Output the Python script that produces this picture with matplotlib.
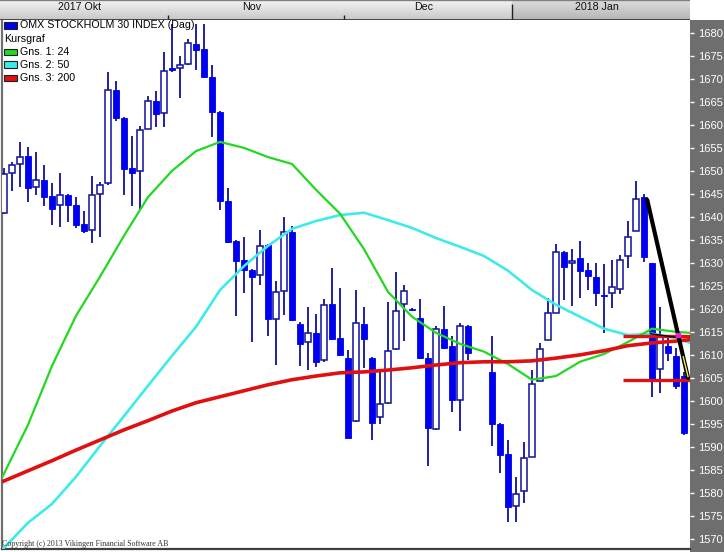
import numpy as np
import matplotlib
matplotlib.use("Agg")
import matplotlib.pyplot as plt
from matplotlib.patches import Rectangle

W, H = 724, 552

### DATA: OMX STOCKHOLM 30, daily, Oct 2017 - Jan 2018 ###
# nan = holiday slots (25-26 Dec)
opens = [1640.9, 1649.5, 1651.4, 1653.3, 1646.5, 1648.0, 1644.6, 1642.5, 1644.7, 1642.5,
         1638.5, 1637.2, 1645.0, 1647.3, 1667.5, 1661.6, 1650.7, 1649.9, 1659.2, 1665.2,
         1662.5, 1672.3, 1672.3, 1673.2, 1677.5, 1676.5, 1670.4, 1662.9, 1643.5, 1634.7,
         1630.7, 1628.5, 1627.3, 1633.8, 1617.9, 1623.8, 1636.7, 1616.7, 1612.7, 1614.7,
         1608.8, 1621.1, 1613.7, 1609.3, 1595.7, 1616.7, 1609.3, 1596.5, 1599.6, 1611.2,
         1621.1, 1620.0, 1618.0, 1609.3, 1593.8, 1615.6, 1612.0, 1600.1, 1616.2, np.nan,
         np.nan, 1606.3, 1595.0, 1588.5, 1577.2, 1580.4, 1587.9, 1604.4, 1613.3, 1619.1,
         1632.4, 1629.9, 1631.1, 1628.5, 1626.9, 1623.0, 1623.4, 1624.3, 1631.4, 1637.0,
         1644.3, 1629.9, 1606.9, 1612.0, 1609.8, 1605.4]
highs = [1650.6, 1652.0, 1656.2, 1655.2, 1654.0, 1651.2, 1647.3, 1649.6, 1645.0, 1644.3,
         1641.2, 1648.9, 1647.5, 1671.5, 1669.6, 1661.8, 1657.6, 1659.7, 1666.3, 1667.4,
         1675.8, 1682.0, 1674.9, 1678.7, 1681.9, 1681.9, 1673.0, 1663.0, 1646.3, 1635.0,
         1635.6, 1628.7, 1637.2, 1634.0, 1626.1, 1640.0, 1638.0, 1617.2, 1620.4, 1618.9,
         1622.2, 1628.8, 1624.6, 1611.1, 1624.1, 1620.4, 1609.5, 1606.9, 1621.5, 1628.0,
         1625.2, 1620.3, 1622.2, 1610.5, 1616.2, 1620.7, 1614.0, 1616.9, 1616.5, np.nan,
         np.nan, 1614.0, 1595.2, 1591.5, 1583.5, 1591.1, 1606.7, 1612.5, 1622.4, 1634.1,
         1632.6, 1633.1, 1634.8, 1630.0, 1629.9, 1629.8, 1630.7, 1631.7, 1639.1, 1647.8,
         1645.0, 1630.0, 1620.4, 1613.8, 1611.4, 1606.2]
lows = [1640.6, 1645.7, 1646.5, 1643.3, 1644.8, 1642.4, 1638.3, 1637.9, 1638.8, 1637.5,
        1636.5, 1634.4, 1635.7, 1646.9, 1660.9, 1644.8, 1642.4, 1641.8, 1659.0, 1659.6,
        1659.6, 1671.5, 1665.8, 1673.0, 1671.9, 1670.2, 1657.3, 1641.4, 1634.4, 1618.5,
        1623.4, 1612.7, 1625.1, 1614.0, 1607.9, 1618.7, 1617.3, 1607.6, 1606.7, 1607.3,
        1608.4, 1613.3, 1609.8, 1591.9, 1595.4, 1607.2, 1591.4, 1595.0, 1599.4, 1611.0,
        1613.0, 1619.5, 1609.2, 1585.9, 1593.7, 1611.3, 1597.5, 1593.4, 1608.9, np.nan,
        np.nan, 1590.1, 1584.4, 1573.7, 1573.7, 1577.8, 1587.7, 1604.3, 1613.2, 1619.0,
        1622.0, 1620.7, 1622.4, 1624.0, 1620.7, 1614.7, 1620.1, 1623.2, 1628.8, 1636.9,
        1630.2, 1600.9, 1601.8, 1608.6, 1602.5, 1592.5]
closes = [1649.3, 1651.2, 1653.1, 1646.2, 1648.0, 1644.4, 1641.7, 1644.7, 1642.5, 1638.3,
          1636.9, 1644.7, 1647.0, 1667.5, 1661.6, 1650.5, 1649.6, 1658.8, 1665.2, 1662.3,
          1671.7, 1671.9, 1673.0, 1677.8, 1676.2, 1670.4, 1662.9, 1643.4, 1634.6, 1630.5,
          1628.4, 1627.0, 1633.7, 1617.7, 1623.7, 1636.7, 1617.5, 1612.4, 1614.7, 1608.5,
          1620.8, 1613.5, 1609.9, 1592.0, 1616.9, 1613.4, 1595.3, 1599.3, 1610.8, 1619.5,
          1623.8, 1619.8, 1609.3, 1594.1, 1615.6, 1611.4, 1600.1, 1616.2, 1610.4, np.nan,
          np.nan, 1595.0, 1588.3, 1576.9, 1579.8, 1587.6, 1603.7, 1611.2, 1619.1, 1632.4,
          1629.2, 1630.4, 1628.3, 1627.2, 1623.4, 1622.7, 1624.7, 1630.7, 1635.6, 1643.8,
          1631.2, 1604.4, 1614.1, 1610.4, 1603.3, 1593.1]

# moving averages at these candle slots
ma_pos = [-0.25, 3, 6, 9, 12, 15, 18, 21, 24, 27, 30, 33, 36, 39, 42, 45, 48, 51, 54, 57,
          60, 63, 66, 69, 72, 75, 78, 81, 84, 85.75]
ma24 = [1583.3, 1594.8, 1607.6, 1618.5, 1627.0, 1635.9, 1644.3, 1650.0, 1654.3, 1656.3,
        1655.0, 1653.0, 1651.5, 1645.9, 1640.7, 1633.0, 1623.7, 1618.3, 1614.8, 1612.4,
        1610.7, 1608.0, 1604.6, 1605.4, 1608.5, 1610.2, 1612.8, 1615.7, 1615.0, 1614.8]
ma50 = [1567.6, 1573.5, 1577.6, 1583.5, 1590.2, 1596.7, 1603.3, 1609.8, 1616.1, 1624.1,
        1629.3, 1633.7, 1637.4, 1639.1, 1640.4, 1640.9, 1639.3, 1637.6, 1635.4, 1633.5,
        1631.5, 1628.3, 1624.1, 1620.9, 1618.3, 1615.7, 1614.3, 1614.6, 1613.7, 1612.6]
ma200 = [1582.4, 1584.8, 1587.0, 1589.3, 1591.5, 1593.7, 1595.7, 1597.8, 1599.6, 1600.9,
         1602.2, 1603.5, 1604.6, 1605.4, 1606.1, 1606.3, 1606.7, 1607.2, 1607.8, 1608.3,
         1608.5, 1608.5, 1608.7, 1609.3, 1610.0, 1610.9, 1612.0, 1612.6, 1613.0, 1613.3]

month_labels = ["2017 Okt", "Nov", "Dec", "2018 Jan"]
month_start = [0, 21, 43, 64]

# drawn objects on the right side
trend_x = [80.4, 85.5]
trend_y = [1643.7, 1605.0]
levels = [1614.0, 1604.6]
levels_from = 77.4

legend_items = [("OMX STOCKHOLM 30 INDEX (Dag)", "#0000f0"), ("Kursgraf", None),
                ("Gns. 1: 24", "#22d822"), ("Gns. 2: 50", "#40eaea"), ("Gns. 3: 200", "#e01010")]

BLUE = "#0000f0"
NAVY = "#10109a"
GREEN = "#22d822"
CYAN = "#40eaea"
RED = "#e01010"

plt.rcParams['font.family'] = ['Liberation Sans', 'DejaVu Sans']

fig = plt.figure(figsize=(W / 100, H / 100), dpi=100)
fig.patch.set_facecolor("white")

def fx(px):
    return px / W

def fy(py):
    return 1 - py / H

# gray price panel at right
fig.add_artist(Rectangle((fx(690), 0), fx(34), fy(20), transform=fig.transFigure,
                         facecolor="#6e6e6e", edgecolor="none", zorder=-1))

XMIN, XMAX = -0.25, 85.75
ax = fig.add_axes([fx(2), 1 - 549 / H, fx(688), 529 / H])
ax.set_xlim(XMIN, XMAX)
ax.set_ylim(1567.8, 1682.8)
ax.set_facecolor("white")

### CANDLES ###
o = np.array(opens)
hi = np.array(highs)
lo = np.array(lows)
c = np.array(closes)
x = np.arange(len(o))
ok = np.isfinite(o)
up = ok & (c >= o)
dn = ok & (c < o)

ax.vlines(x[ok], lo[ok], hi[ok], color=NAVY, lw=1.3, zorder=2)
body_lo = np.minimum(o, c)
body_h = np.maximum(np.abs(c - o), 0.25)
ax.bar(x[up], body_h[up], bottom=body_lo[up], width=0.72, facecolor="white",
       edgecolor=NAVY, lw=1.1, zorder=3)
ax.bar(x[dn], body_h[dn], bottom=body_lo[dn], width=0.72, facecolor=BLUE,
       edgecolor=BLUE, lw=0.6, zorder=3)

### MOVING AVERAGES ###
ax.plot(ma_pos, ma50, color=CYAN, lw=1.9, zorder=4, solid_joinstyle="round")
ax.plot(ma_pos, ma24, color=GREEN, lw=1.6, zorder=4, solid_joinstyle="round")
ax.plot(ma_pos, ma200, color=RED, lw=2.6, zorder=4, solid_joinstyle="round")

# trend line + level lines
ax.hlines(levels, levels_from, XMAX, color=RED, lw=2.4, zorder=5)
ax.plot(trend_x, trend_y, color="black", lw=3, zorder=6, solid_capstyle="round")
ax.plot([80.8, 84.1], [1614.6, 1613.8], color="black", lw=1, zorder=6)
ax.plot([84.9, 85.5], [1609.6, 1605.3], color="#f0f040", lw=1, zorder=6)
ax.plot([84.25], [1614.4], marker="s", ms=2.5, color="#e020e0", zorder=7)

### AXES DECORATION ###
ax.set_xticks([])
ax.yaxis.tick_right()
yt = list(range(1570, 1681, 5))
ax.set_yticks(yt)
ax.set_yticklabels([str(v) for v in yt])
ax.tick_params(axis="y", colors="white", length=3, width=1, pad=3, labelsize=8)
for s in ["top", "right"]:
    ax.spines[s].set_visible(False)
ax.spines["left"].set_color("#707070")
ax.spines["left"].set_linewidth(1.6)
ax.spines["bottom"].set_color("#404040")
ax.spines["bottom"].set_linewidth(1.6)

### HEADER WITH MONTHS ###
axh = fig.add_axes([0, fy(20), fx(690), 20 / H])
axh.set_xlim(-0.5, XMAX)
axh.set_ylim(20, 0)
grad = np.linspace(0.95, 0.78, 20).reshape(-1, 1)
axh.imshow(grad, cmap="gray", vmin=0, vmax=1, aspect="auto",
           extent=(-0.5, XMAX, 20, 0), zorder=0)
jan = month_start[3] - 0.5
axh.add_patch(Rectangle((jan, 0), XMAX - jan, 20, facecolor="black", alpha=0.09,
                        edgecolor="none", zorder=1))
ends = month_start[1:] + [XMAX + 0.5]
for lab, s, e in zip(month_labels, month_start, ends):
    axh.text((s + e) / 2 - 1.0, 7, lab, ha="center", va="center", fontsize=7.7,
             color="#101010", zorder=3)
axh.vlines([month_start[1] - 0.5, month_start[2] - 0.5], 15, 20, color="#202020", lw=1, zorder=3)
axh.vlines([jan], 4, 20, color="#202020", lw=1, zorder=3)
axh.axhline(19.5, color="#303030", lw=1.2, zorder=3)
axh.axhline(0.3, color="#808080", lw=1, zorder=3)
axh.set_axis_off()

### LEGEND ###
rows = [25.5, 39, 52, 64.5, 78]
for (lab, col), py in zip(legend_items, rows):
    if col is None:
        fig.text(fx(4), fy(py), lab, ha="left", va="center", fontsize=7.7, color="black")
    else:
        fig.add_artist(Rectangle((fx(4), fy(py + 3.2)), fx(13), 6.5 / H,
                                 transform=fig.transFigure, facecolor=col,
                                 edgecolor="#202020", lw=0.8, zorder=10))
        fig.text(fx(20.5), fy(py), lab, ha="left", va="center", fontsize=7.7, color="black",
                 zorder=10)

fig.text(fx(2), fy(544), "Copyright (c) 2013 Vikingen Financial Software AB",
         ha="left", va="center", fontsize=5.7, color="#303030", family="Liberation Serif")

fig.savefig("out.png", dpi=100)
